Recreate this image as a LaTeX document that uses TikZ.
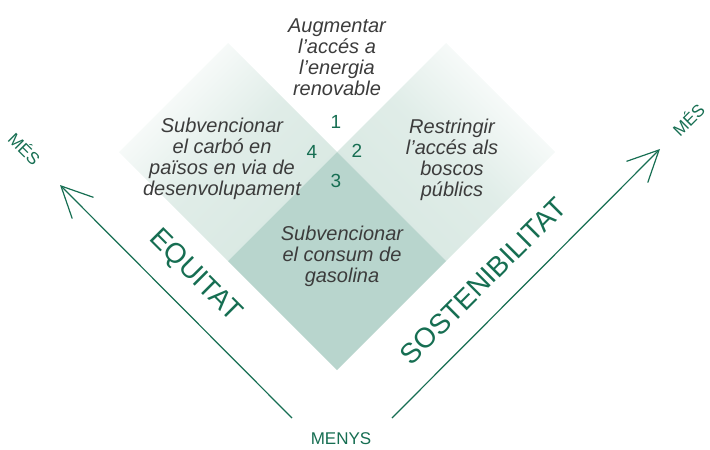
\documentclass[tikz,border=0pt]{standalone}
\usepackage{fontspec}
\setmainfont{Liberation Sans}
\usetikzlibrary{arrows.meta}
\definecolor{vert}{RGB}{22, 110, 82}
\definecolor{gris}{RGB}{60, 60, 60}
\definecolor{clair}{RGB}{216, 232, 226}
\definecolor{fonce}{RGB}{184, 213, 205}

\tikzset{
	texte/.style={align=center, font=\itshape\fontsize{20}{21}\selectfont, text=gris, inner sep=0pt},
	numero/.style={font=\fontsize{19}{20}\selectfont, text=vert, inner sep=0pt},
	axe/.style={font=\fontsize{28}{30}\selectfont, text=vert, inner sep=0pt},
	petit/.style={font=\fontsize{17}{18}\selectfont, text=vert, inner sep=0pt},
	fleche/.style={draw=vert, line width=1.2pt, -{Straight Barb[length=31pt, width=30pt]}}
}

\begin{document}
\begin{tikzpicture}[x=1pt, y=-1pt]
			\useasboundingbox (0,0) rectangle (710,450);

			% cases
			\foreach \a/\ang in {-1/45, 1/-45} {
				\shade[top color=white, bottom color=clair, middle color=clair!80, shading angle=\ang]
					(337,152) -- ++(\a*109,-109) -- ++(\a*109,109) -- ++(-\a*109,109) -- cycle;
			}
			\fill[fonce] (337,152) -- ++(109,109) -- ++(-109,109) -- ++(-109,-109) -- cycle;

			% textes
			\node[texte] (haut) at (337,57) {Augmentar\\l’accés a\\l’energia\\renovable};
			\node[texte] (gauche) at (222,159) {Subvencionar\\el carbó en\\països en via de\\desenvolupament};
			\node[texte] (droite) at (452,160) {Restringir\\l’accés als\\boscos\\públics};
			\node[texte] (bas) at (342,256) {Subvencionar\\el consum de\\gasolina};

			% numeros
			\node[numero] (n1) at (336,122) {1};
			\node[numero] (n2) at (357,151) {2};
			\node[numero] (n3) at (336,181) {3};
			\node[numero] (n4) at (312,152) {4};

			% fleches
			\coordinate (equitatbas) at (292,418);
			\coordinate (equitathaut) at (60,185);
			\coordinate (sostbas) at (392,418);
			\coordinate (sosthaut) at (660,149);
			\draw[fleche] (equitatbas) -- (equitathaut);
			\draw[fleche] (sostbas) -- (sosthaut);

			\node[axe, rotate=-45] (equitat) at (195,276) {EQUITAT};
			\node[axe, rotate=45] (sost) at (483,281) {SOSTENIBILITAT};
			\node[petit] (menys) at (341,439) {MENYS};
			\node[petit, rotate=-45] (mesg) at (25,148) {MÉS};
			\node[petit, rotate=45] (mesd) at (688,119) {MÉS};
		\end{tikzpicture}
\end{document}
